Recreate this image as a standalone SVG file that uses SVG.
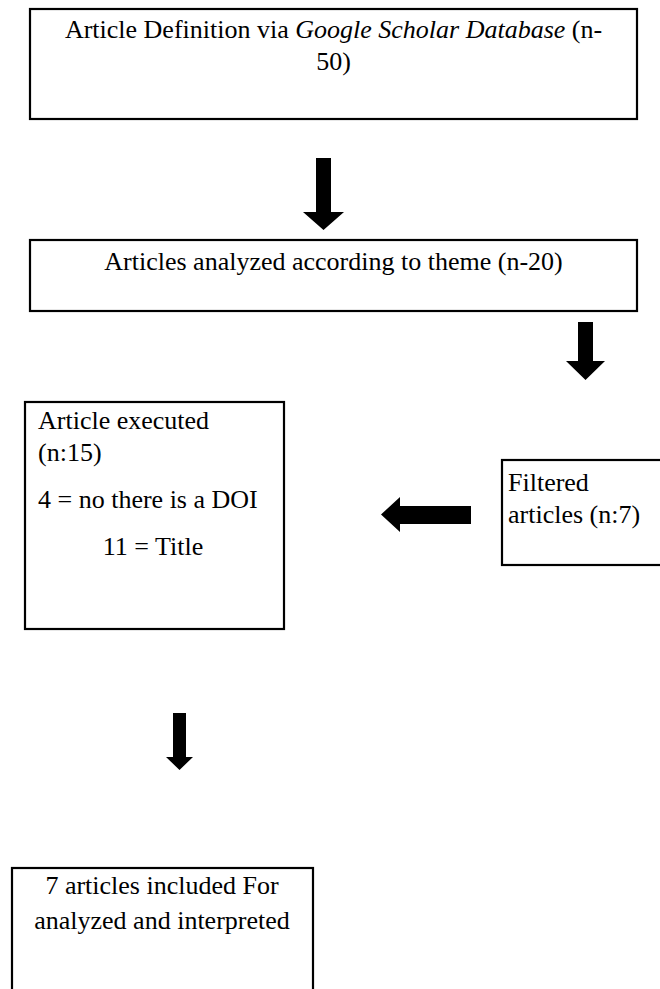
<svg xmlns="http://www.w3.org/2000/svg" width="660" height="989" viewBox="0 0 660 989">
<style>
  .box { fill: #fff; stroke: #000; stroke-width: 2.2; }
  .t { font-family: 'Liberation Serif', serif; font-size: 26px; fill: #000; }
  .c { text-anchor: middle; }
  .arrow { fill: #000; stroke: none; }
</style>
<rect width="660" height="989" fill="#fff"/>
<g id="connectors">
  <polygon class="arrow" points="316,158 331,158 331,212 344,212 323.5,230 303,212 316,212"/>
  <polygon class="arrow" points="578,322 593,322 593,361 605,361 585.5,380 566,361 578,361"/>
  <polygon class="arrow" points="471,506 471,524 400,524 400,532 381,514.5 400,497 400,506"/>
  <polygon class="arrow" points="173,713 186,713 186,757 193,757 179.5,770 166,757 173,757"/>
</g>
<g id="node-definition">
  <rect class="box" x="30" y="9" width="607" height="110"/>
  <text class="t c" x="333.5" y="38" font-family="Liberation Serif, serif">Article Definition via <tspan font-style="italic">Google Scholar Database</tspan> (n-</text>
  <text class="t c" x="333.5" y="70" font-family="Liberation Serif, serif">50)</text>
</g>
<g id="node-analyzed">
  <rect class="box" x="30" y="240" width="607" height="71"/>
  <text class="t c" x="333.5" y="270" font-family="Liberation Serif, serif">Articles analyzed according to theme (n-20)</text>
</g>
<g id="node-filtered">
  <rect class="box" x="502" y="460" width="180" height="105"/>
  <text class="t" x="508" y="491" font-family="Liberation Serif, serif">Filtered</text>
  <text class="t" x="508" y="523" font-family="Liberation Serif, serif">articles (n:7)</text>
</g>
<g id="node-executed">
  <rect class="box" x="25" y="402" width="259" height="227"/>
  <text class="t" x="38" y="429" font-family="Liberation Serif, serif">Article executed</text>
  <text class="t" x="38" y="461" font-family="Liberation Serif, serif">(n:15)</text>
  <text class="t" x="38" y="508" font-family="Liberation Serif, serif">4 = no there is a DOI</text>
  <text class="t c" x="153" y="555" font-family="Liberation Serif, serif">11 = Title</text>
</g>
<g id="node-included">
  <rect class="box" x="12" y="868" width="301" height="140"/>
  <text class="t c" x="162" y="894" font-family="Liberation Serif, serif">7 articles included For</text>
  <text class="t c" x="162" y="929" font-family="Liberation Serif, serif">analyzed and interpreted</text>
</g>
</svg>
